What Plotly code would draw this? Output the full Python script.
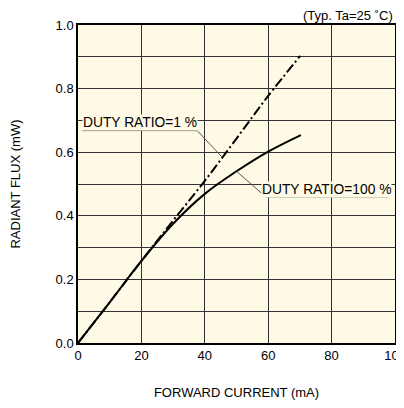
import plotly.graph_objects as go

# Data
current_1pct = [0, 10, 20, 30, 40, 50, 60, 70.1]
flux_1pct = [0, 0.128, 0.258, 0.385, 0.510, 0.643, 0.777, 0.903]

current_100pct = [0, 10, 20, 30, 40, 50, 60, 70.3]
flux_100pct = [0, 0.128, 0.258, 0.375, 0.469, 0.540, 0.602, 0.654]

x_ticks = [0, 20, 40, 60, 80, 100]
x_ticktext = ["0", "20", "40", "60", "80", "100"]
y_ticks = [0.0, 0.1, 0.2, 0.3, 0.4, 0.5, 0.6, 0.7, 0.8, 0.9, 1.0]
y_ticktext = ["0.0", "", "0.2", "", "0.4", "", "0.6", "", "0.8", "", "1.0"]

label_1pct = "DUTY RATIO=1 %"
label_100pct = "DUTY RATIO=100 %"

FONT = "Liberation Sans, Arial, sans-serif"
BG = "#FFFAE6"

fig = go.Figure()
fig.add_trace(go.Scatter(x=current_1pct, y=flux_1pct, mode="lines",
                         line=dict(color="black", width=2, dash="10px,3px,2px,3px", shape="spline"),
                         showlegend=False, hoverinfo="skip"))
fig.add_trace(go.Scatter(x=current_100pct, y=flux_100pct, mode="lines",
                         line=dict(color="black", width=2, shape="spline"),
                         showlegend=False, hoverinfo="skip"))

# leader lines
lead = dict(color="#555555", width=1)
fig.add_shape(type="line", x0=1.4, y0=0.668, x1=37.6, y1=0.668, line=lead)
fig.add_shape(type="line", x0=37.6, y0=0.668, x1=45.3, y1=0.586, line=lead)
fig.add_shape(type="line", x0=59.3, y0=0.459, x1=97.7, y1=0.459, line=lead)
fig.add_shape(type="line", x0=59.3, y0=0.459, x1=50.0, y1=0.540, line=lead)

fig.add_annotation(x=19.5, y=0.692, text=label_1pct, showarrow=False,
                   font=dict(family=FONT, size=13.8, color="black"), bgcolor=BG, borderpad=0)
fig.add_annotation(x=78.3, y=0.482, text=label_100pct, showarrow=False,
                   font=dict(family=FONT, size=13.8, color="black"), bgcolor=BG, borderpad=0)
fig.add_annotation(x=1, xref="paper", xanchor="right", xshift=-1, y=1, yref="paper",
                   yanchor="middle", yshift=10, text="(Typ. Ta=25 ˚C)", showarrow=False,
                   borderpad=0, font=dict(family=FONT, size=13, color="black"))

fig.update_layout(
    width=404, height=408,
    margin=dict(l=69.5, r=17, t=17, b=73),
    paper_bgcolor="white", plot_bgcolor=BG,
    font=dict(family=FONT, size=13, color="black"),
    xaxis=dict(range=[0, 100], tickvals=x_ticks, ticktext=x_ticktext, automargin=False,
               showgrid=True, gridcolor="#333333", gridwidth=1, zeroline=False,
               showline=True, linecolor="black", linewidth=1.5, mirror=True,
               ticks="", ticklen=0,
               title=dict(text="FORWARD CURRENT (mA)", font=dict(size=13), standoff=26)),
    yaxis=dict(range=[0, 1.0], tickvals=y_ticks, ticktext=y_ticktext, automargin=False,
               showgrid=True, gridcolor="#333333", gridwidth=1, zeroline=False,
               showline=True, linecolor="black", linewidth=1.5, mirror=True,
               ticks="", ticklen=0,
               title=dict(text="RADIANT FLUX (mW)", font=dict(size=13), standoff=32)),
)

fig.write_html("out.html")
